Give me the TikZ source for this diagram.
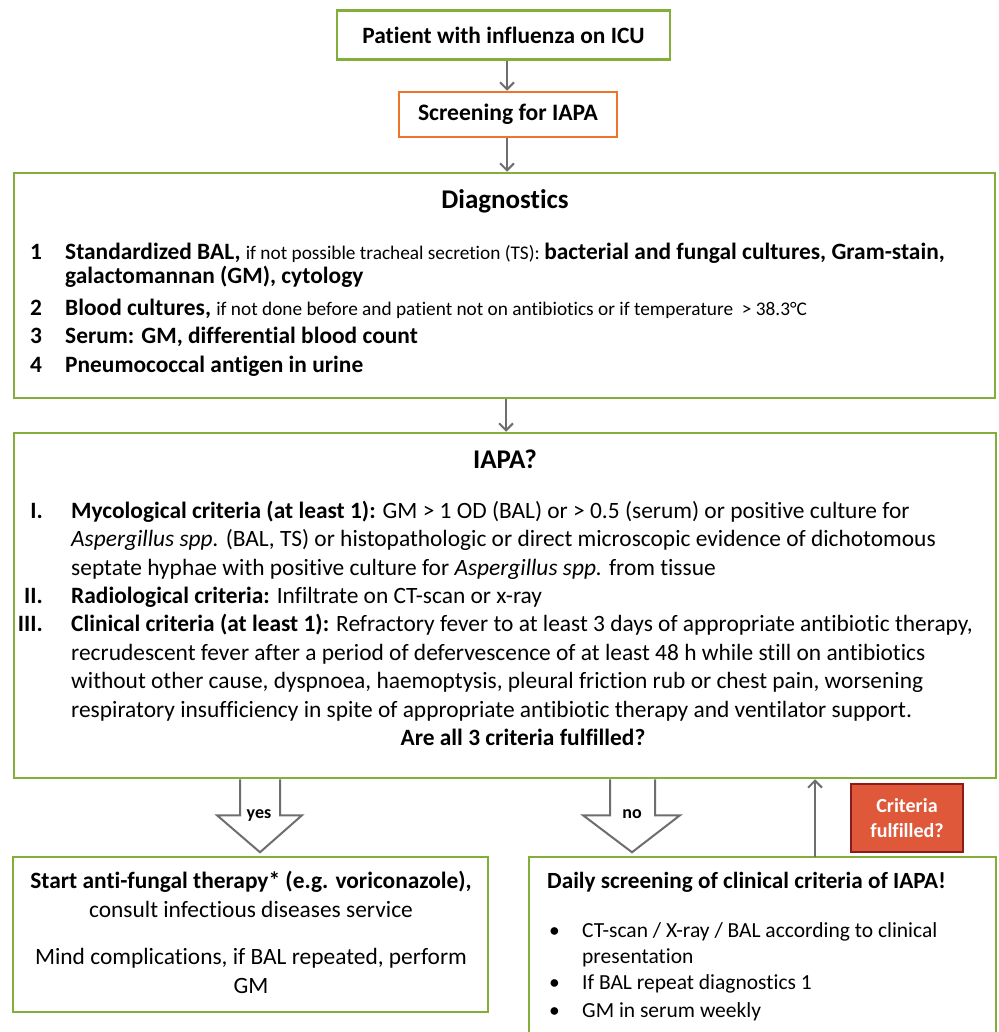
\documentclass[tikz,border=0pt]{standalone}
\usepackage{fontspec}
\setmainfont{Carlito}[Ligatures=NoCommon]
\usetikzlibrary{arrows.meta}
\definecolor{bgreen}{HTML}{84AE3A}
\definecolor{borange}{HTML}{EE7427}
\definecolor{agray}{HTML}{6E6E6E}
\definecolor{rfill}{HTML}{E0583A}
\definecolor{rdraw}{HTML}{8E1B1B}
\newcommand\fA{\fontsize{23.4}{28}\selectfont}
\newcommand\fS{\fontsize{19.3}{23}\selectfont}
\newcommand\fT{\fontsize{27}{32}\selectfont\bfseries}
\newcommand\fB{\fontsize{23.4}{28}\selectfont}
\newcommand\fR{\fontsize{21.5}{26}\selectfont}
\tikzset{
  gbox/.style={draw=bgreen, line width=2.5pt, fill=white, inner sep=0pt},
  obox/.style={draw=borange, line width=2.5pt, fill=white, inner sep=0pt},
  rbox/.style={draw=rdraw, fill=rfill, line width=1.5pt, inner sep=0pt, text=white, align=center, font=\fontsize{20}{25}\selectfont\bfseries},
  txt/.style={anchor=base west, inner sep=0pt},
  txtc/.style={anchor=base, inner sep=0pt},
  txte/.style={anchor=base east, inner sep=0pt},
  thinarrow/.style={draw=agray, line width=2pt, -{Straight Barb[length=7pt, width=14pt, line width=2pt]}},
  hollow/.style={draw=agray, line width=2pt, fill=white, line join=miter},
  arrlabel/.style={anchor=base, inner sep=0pt, font=\fontsize{18}{22}\selectfont\bfseries},
}
\begin{document}
\begin{tikzpicture}[x=1pt,y=-1pt]
\useasboundingbox[fill=white] (0,0) rectangle (998,1032);

% top boxes
\node[gbox, minimum width=333pt, minimum height=49pt, font=\fontsize{23.4}{28}\selectfont\bfseries] (patient) at (503.5,35) {Patient with influenza on ICU};
\node[obox, minimum width=218pt, minimum height=45pt, font=\fontsize{23.6}{28}\selectfont\bfseries] (screen) at (508,114.5) {Screening for IAPA};

% diagnostics box
\node[gbox, minimum width=981pt, minimum height=225pt] (diag) at (504.5,285.5) {};
\node[txtc, font=\fT] (dtitle) at (505,209) {Diagnostics};
\node[txt, font=\fA\bfseries] (dn1) at (30,259) {1};
\node[txt] (dl1) at (65,259) {\fA\bfseries Standardized BAL, \fS\mdseries if not possible tracheal secretion (TS): \fA\bfseries bacterial and fungal cultures, Gram-stain,};
\node[txt, font=\fA\bfseries] (dl1b) at (65,283) {galactomannan (GM), cytology};
\node[txt, font=\fA\bfseries] (dn2) at (30,315) {2};
\node[txt] (dl2) at (65,315) {\fA\bfseries Blood cultures, \fS\mdseries if not done before and patient not on antibiotics or if temperature\ \ > 38.3°C};
\node[txt, font=\fA\bfseries] (dn3) at (30,343) {3};
\node[txt, font=\fA\bfseries] (dl3) at (65,343) {Serum: GM, differential blood count};
\node[txt, font=\fA\bfseries] (dn4) at (30,372) {4};
\node[txt, font=\fA\bfseries] (dl4) at (65,372) {Pneumococcal antigen in urine};

% IAPA box
\node[gbox, minimum width=982pt, minimum height=345pt] (iapa) at (505,605.5) {};
\node[txtc, font=\fT] (ititle) at (505,468) {IAPA?};
\node[txte, font=\fA\bfseries] (in1) at (43,518) {I.};
\node[txt, font=\fA] (il1) at (71,518) {\textbf{Mycological criteria (at least 1):} GM > 1 OD (BAL) or > 0.5 (serum) or positive culture for};
\node[txt, font=\fA] (il1b) at (71,546.5) {\textit{Aspergillus spp.} (BAL, TS) or histopathologic or direct microscopic evidence of dichotomous};
\node[txt, font=\fA] (il1c) at (71,575) {septate hyphae with positive culture for \textit{Aspergillus spp.} from tissue};
\node[txte, font=\fA\bfseries] (in2) at (43,603) {II.};
\node[txt, font=\fA] (il2) at (71,603) {\textbf{Radiological criteria:} Infiltrate on CT-scan or x-ray};
\node[txte, font=\fA\bfseries] (in3) at (43,631.5) {III.};
\node[txt, font=\fA] (il3) at (71,631.5) {\textbf{Clinical criteria (at least 1):} Refractory fever to at least 3 days of appropriate antibiotic therapy,};
\node[txt, font=\fA] (il3b) at (71,660) {recrudescent fever after a period of defervescence of at least 48 h while still on antibiotics};
\node[txt, font=\fA] (il3c) at (71,688.5) {without other cause, dyspnoea, haemoptysis, pleural friction rub or chest pain, worsening};
\node[txt, font=\fA] (il3d) at (71,717) {respiratory insufficiency in spite of appropriate antibiotic therapy and ventilator support.};
\node[txtc, font=\fA\bfseries] (iq) at (523,745) {Are all 3 criteria fulfilled?};

% bottom boxes
\node[gbox, minimum width=475pt, minimum height=155pt] (yesbox) at (250.5,934.5) {};
\node[txtc, font=\fB\bfseries] (y1) at (251,888) {Start anti-fungal therapy* (e.g. voriconazole),};
\node[txtc, font=\fB] (y2) at (251,917) {consult infectious diseases service};
\node[txtc, font=\fB] (y3) at (251,964) {Mind complications, if BAL repeated, perform};
\node[txtc, font=\fB] (y4) at (251,993) {GM};

\begin{scope}
\clip (0,0) rectangle (998,1032);
\node[gbox, minimum width=467pt, minimum height=190pt] (nobox) at (762.5,952) {};
\end{scope}
\node[txt, font=\fontsize{23.2}{28}\selectfont\bfseries] (n1) at (547,888) {Daily screening of clinical criteria of IAPA!};
\node[txt, font=\fR] (nb1) at (549,937) {•};
\node[txt, font=\fR] (nt1) at (582,937) {CT-scan / X-ray / BAL according to clinical};
\node[txt, font=\fR] (nt1b) at (582,963) {presentation};
\node[txt, font=\fR] (nb2) at (549,989) {•};
\node[txt, font=\fR] (nt2) at (582,989) {If BAL repeat diagnostics 1};
\node[txt, font=\fR] (nb3) at (549,1017) {•};
\node[txt, font=\fR] (nt3) at (582,1017) {GM in serum weekly};

% red box
\node[rbox, minimum width=112pt, minimum height=68pt] (crit) at (907,818) {Criteria\\fulfilled?};

% thin arrows
\draw[thinarrow] (patient.south -| 507,0) -- (screen.north -| 507,0);
\draw[thinarrow] (screen.south -| 507,0) -- (diag.north -| 507,0);
\draw[thinarrow] (diag.south -| 506,0) -- (iapa.north -| 506,0);
\coordinate (upfoot) at (815,857);
\draw[thinarrow] (upfoot) -- (upfoot |- iapa.south);

% hollow arrows
\coordinate (ya) at (iapa.south -| 260,0);
\coordinate (na) at (iapa.south -| 632,0);
\draw[hollow] (ya) ++(-20,0) -- ++(0,36) -- ++(-23,0) -- ++(43,37) -- ++(42,-37) -- ++(-22,0) -- ++(0,-36);
\draw[hollow] (na) ++(-22,0) -- ++(0,36) -- ++(-27,0) -- ++(49,37) -- ++(48,-37) -- ++(-25,0) -- ++(0,-36);
\node[arrlabel] (yeslab) at (259,818) {yes};
\node[arrlabel] (nolab) at (632,818) {no};
\end{tikzpicture}
\end{document}
